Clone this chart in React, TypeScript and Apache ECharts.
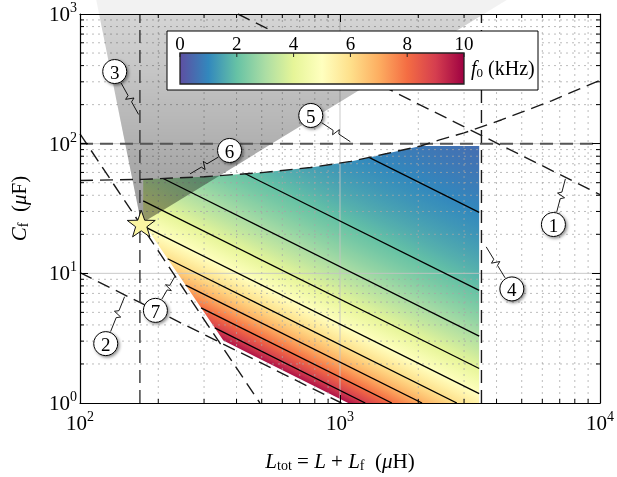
import React, { useEffect, useRef } from "react";
import * as echarts from "echarts";

const FONT = "'Liberation Serif', 'DejaVu Serif', serif";

// f0 (kHz) = K_F0 / sqrt(Ltot[µH] * Cf[µF])
const K_F0 = 1000 / Math.PI;
const f0ContourLevels = [1, 2, 3, 4, 5, 6, 7, 8, 9];
const f0GradientRange = [10, 0.5];
const colorbarTicks = [0, 2, 4, 6, 8, 10];
const colorbarRange = [0, 10];
const spectralR = [
  "#5e4fa2", "#3288bd", "#66c2a5", "#abdda4", "#e6f598", "#ffffbf",
  "#fee08b", "#fdae61", "#f46d43", "#d53e4f", "#9e0142",
];

const xRange = [100, 10000];
const yRange = [1, 1000];
const xMajorGrid = [1000];
const yMajorGrid = [10, 100];
const xDecades = [100, 1000];
const yDecades = [1, 10, 100];
const minorMultiples = [2, 3, 4, 5, 6, 7, 8, 9];

// constraint lines [Ltot µH, Cf µF]
const line1 = [[405, 1000], [10000, 40.5]];
const line2 = [[100, 10.13], [1013, 1]];
const line3 = [[170, 1], [170, 1000]];
const line4 = [[3500, 1], [3500, 1000]];
const line5 = [[100, 100], [10000, 100]];
const line6 = [
  [100, 52], [173, 53], [300, 55.6], [500, 59.8], [770, 65.5], [1100, 73],
  [1516, 84], [2044, 96], [2416, 107], [3000, 121], [4189, 153], [5000, 175],
  [6510, 214], [8000, 255], [10000, 308],
];
const line7 = [[100, 119], [492, 1]];

// feasible region
const region = [
  [175, 53.1], [300, 55.6], [500, 59.8], [770, 65.5], [1100, 73], [1516, 84],
  [2044, 96], [3430, 96], [3430, 1], [1075, 1], [356, 3.03], [175, 24.5],
];
const wedge = [[172, 24.2], [106, 3000], [8760, 3000]];
const starPoint = [[172, 24.2]];

const callouts = [
  { n: "1", at: [6620, 23.8], tip: [7360, 53.5] },
  { n: "2", at: [125.6, 2.87], tip: [148.4, 6.6] },
  { n: "3", at: [136, 360], tip: [168, 168] },
  { n: "4", at: [4581, 7.58], tip: [3650, 16] },
  { n: "5", at: [772, 165], tip: [1096, 103.5] },
  { n: "6", at: [376, 88.6], tip: [265, 58.5] },
  { n: "7", at: [195, 5.18], tip: [232, 9.5] },
];

function hexToRgb(h: string) {
  const v = parseInt(h.slice(1), 16);
  return [(v >> 16) & 255, (v >> 8) & 255, v & 255];
}
function spectral(t: number) {
  t = Math.min(1, Math.max(0, t));
  const n = spectralR.length - 1;
  const s = t * n;
  const i = Math.min(Math.floor(s), n - 1);
  const fr = s - i;
  const a = hexToRgb(spectralR[i]);
  const b = hexToRgb(spectralR[i + 1]);
  const c = a.map((x, k) => Math.round(x + (b[k] - x) * fr));
  return `rgb(${c[0]},${c[1]},${c[2]})`;
}

const logRegion = region.map(([L, C]) => [Math.log10(L), Math.log10(C)]);
function contourSegments(f: number) {
  const u = 2 * Math.log10(K_F0 / f);
  const hits: number[] = [];
  const n = logRegion.length;
  for (let i = 0; i < n; i++) {
    const a = logRegion[i];
    const b = logRegion[(i + 1) % n];
    const ga = a[0] + a[1] - u;
    const gb = b[0] + b[1] - u;
    if (ga < 0 !== gb < 0) {
      const t = ga / (ga - gb);
      hits.push(a[0] + t * (b[0] - a[0]));
    }
  }
  hits.sort((p, q) => p - q);
  const segs: number[][][] = [];
  for (let i = 0; i + 1 < hits.length; i += 2) {
    segs.push([
      [Math.pow(10, hits[i]), Math.pow(10, u - hits[i])],
      [Math.pow(10, hits[i + 1]), Math.pow(10, u - hits[i + 1])],
    ]);
  }
  return segs;
}

const starPath = (() => {
  let d = "";
  for (let k = 0; k < 10; k++) {
    const R = k % 2 === 0 ? 50 : 20;
    const a = ((-90 + 36 * k) * Math.PI) / 180;
    d += (k === 0 ? "M" : "L") + (50 + R * Math.cos(a)).toFixed(2) + " " + (50 + R * Math.sin(a)).toFixed(2) + " ";
  }
  return "path://" + d + "Z";
})();

const powLabel = (v: number) => `{b|10}{s|${Math.round(Math.log10(v))}}`;
const powRich = {
  b: { fontSize: 21, fontFamily: FONT, color: "#000" },
  s: { fontSize: 14, fontFamily: FONT, color: "#000", padding: [0, 0, 13, 0] },
};
const nameRich = {
  i: { fontSize: 21, fontFamily: FONT, fontStyle: "italic", color: "#000" },
  r: { fontSize: 21, fontFamily: FONT, color: "#000" },
  sub: { fontSize: 14, fontFamily: FONT, color: "#000", padding: [9, 0, 0, 0] },
};

export default function App() {
  const ref = useRef<HTMLDivElement>(null);
  useEffect(() => {
    const chart = echarts.init(ref.current!, null, { renderer: "svg" });

    const baseRender = (params: any, api: any) => {
      const c = (p: number[]) => api.coord(p);
      const cs = params.coordSys;
      const children: any[] = [];
      // coloured region with f0 gradient
      const o = c([100, 1]);
      const px = c([1000, 1]);
      const py = c([100, 10]);
      const a = px[0] - o[0];
      const b = o[1] - py[1];
      const lc0 = Math.pow(K_F0 / f0GradientRange[0], 2);
      const lc1 = Math.pow(K_F0 / f0GradientRange[1], 2);
      const A = c([1000, lc0 / 1000]);
      const du = Math.log10(lc1 / lc0);
      const t = du / (1 / (a * a) + 1 / (b * b));
      const B = [A[0] + t / a, A[1] - t / b];
      const stops: any[] = [];
      const N = 80;
      for (let i = 0; i <= N; i++) {
        const s = i / N;
        const lc = Math.pow(10, Math.log10(lc0) + s * du);
        const f = K_F0 / Math.sqrt(lc);
        stops.push({ offset: s, color: spectral((f - colorbarRange[0]) / (colorbarRange[1] - colorbarRange[0])) });
      }
      children.push({
        type: "polygon",
        shape: { points: region.map(c) },
        style: { fill: new echarts.graphic.LinearGradient(A[0], A[1], B[0], B[1], stops, true) },
      });
      // grid
      const top = cs.y, bottom = cs.y + cs.height, left = cs.x, right = cs.x + cs.width;
      const minorStyle = { stroke: "rgba(165,165,165,0.75)", lineWidth: 1, lineDash: [2, 4] };
      const majorStyle = { stroke: "rgba(195,195,195,0.9)", lineWidth: 1 };
      xDecades.forEach((d) =>
        minorMultiples.forEach((m) => {
          const x = c([d * m, 1])[0];
          children.push({ type: "line", shape: { x1: x, y1: top, x2: x, y2: bottom }, style: minorStyle });
          children.push({ type: "line", shape: { x1: x, y1: bottom, x2: x, y2: bottom - 4 }, style: { stroke: "#000", lineWidth: 1 } });
          children.push({ type: "line", shape: { x1: x, y1: top, x2: x, y2: top + 4 }, style: { stroke: "#000", lineWidth: 1 } });
        })
      );
      yDecades.forEach((d) =>
        minorMultiples.forEach((m) => {
          const y = c([100, d * m])[1];
          children.push({ type: "line", shape: { x1: left, y1: y, x2: right, y2: y }, style: minorStyle });
          children.push({ type: "line", shape: { x1: left, y1: y, x2: left + 4, y2: y }, style: { stroke: "#000", lineWidth: 1 } });
          children.push({ type: "line", shape: { x1: right, y1: y, x2: right - 4, y2: y }, style: { stroke: "#000", lineWidth: 1 } });
        })
      );
      xMajorGrid.forEach((v) => {
        const x = c([v, 1])[0];
        children.push({ type: "line", shape: { x1: x, y1: top, x2: x, y2: bottom }, style: majorStyle });
      });
      yMajorGrid.forEach((v) => {
        const y = c([100, v])[1];
        children.push({ type: "line", shape: { x1: left, y1: y, x2: right, y2: y }, style: majorStyle });
      });
      // contours
      f0ContourLevels.forEach((f) => {
        contourSegments(f).forEach((seg) => {
          const p0 = c(seg[0]);
          const p1 = c(seg[1]);
          children.push({ type: "line", shape: { x1: p0[0], y1: p0[1], x2: p1[0], y2: p1[1] }, style: { stroke: "#000", lineWidth: 1.3 } });
        });
      });
      return { type: "group", children };
    };

    const wedgeInner = (params: any, api: any) => {
      const pts = wedge.map((p) => api.coord(p));
      const grad = new echarts.graphic.LinearGradient(0, pts[0][1], 0, params.coordSys.y, [
        { offset: 0, color: "rgba(0,0,0,0.37)" },
        { offset: 1, color: "rgba(0,0,0,0.12)" },
      ], true);
      return { type: "polygon", shape: { points: pts }, style: { fill: grad } };
    };
    const wedgeOuter = (params: any, api: any) => {
      const pts = wedge.map((p) => api.coord(p));
      return { type: "polygon", shape: { points: pts }, style: { fill: "rgba(0,0,0,0.05)" } };
    };

    const calloutRender = (params: any, api: any) => {
      const co = callouts[params.dataIndex];
      const cp = api.coord(co.at);
      const tp = api.coord(co.tip);
      const dx = tp[0] - cp[0], dy = tp[1] - cp[1];
      const len = Math.hypot(dx, dy);
      const ux = dx / len, uy = dy / len;
      const nx = -uy, ny = ux;
      const r = 12;
      const q = [cp[0] + ux * (r + 1), cp[1] + uy * (r + 1)];
      const Ll = len - r - 1;
      const at = (s: number, off: number) => [q[0] + ux * Ll * s + nx * off, q[1] + uy * Ll * s + ny * off];
      const leader = [q, at(0.4, 0), at(0.46, 4), at(0.54, -4), at(0.6, 0), tp];
      return {
        type: "group",
        children: [
          { type: "polyline", shape: { points: leader }, style: { stroke: "#000", lineWidth: 0.9, fill: null } },
          {
            type: "circle",
            shape: { cx: cp[0], cy: cp[1], r },
            style: { fill: "#fff", stroke: "#000", lineWidth: 1, shadowBlur: 3, shadowOffsetX: 1.5, shadowOffsetY: 1.5, shadowColor: "rgba(0,0,0,0.45)" },
          },
          {
            type: "text",
            x: cp[0],
            y: cp[1] + 1,
            style: { text: co.n, fontSize: 19, fontFamily: FONT, fill: "#000", align: "center", verticalAlign: "middle", textAlign: "center", textVerticalAlign: "middle" },
          },
        ],
      };
    };

    const dashed = (data: number[][], color = "#1a1a1a", width = 1.4) => ({
      type: "line",
      data,
      symbol: "none",
      silent: true,
      z: 4,
      lineStyle: { color, width, type: [13, 7] },
    });

    // colorbar (graphic)
    const cbX = 180, cbY = 53, cbW = 284, cbH = 31;
    const cbStops = spectralR.map((col, i) => ({ offset: i / (spectralR.length - 1), color: col }));
    const graphic: any[] = [
      { type: "rect", z: 100, shape: { x: 167, y: 31, width: 371, height: 59 }, style: { fill: "#fff", stroke: "#000", lineWidth: 1 } },
      { type: "rect", z: 101, shape: { x: cbX, y: cbY, width: cbW, height: cbH }, style: { fill: new echarts.graphic.LinearGradient(0, 0, 1, 0, cbStops), stroke: "#222", lineWidth: 1.3 } },
    ];
    colorbarTicks.forEach((v) => {
      const x = cbX + ((v - colorbarRange[0]) / (colorbarRange[1] - colorbarRange[0])) * cbW;
      graphic.push({ type: "line", z: 102, shape: { x1: x, y1: cbY, x2: x, y2: cbY + 4 }, style: { stroke: "#222", lineWidth: 1 } });
      graphic.push({
        type: "text", z: 102, x, y: 43,
        style: { text: String(v), fontSize: 19, fontFamily: FONT, fill: "#000", align: "center", verticalAlign: "middle", textAlign: "center", textVerticalAlign: "middle" },
      });
    });
    graphic.push({
      type: "text", z: 102, x: 471, y: 68,
      style: {
        text: "{i|f}{sub|0}{r| (kHz)}",
        rich: {
          i: { fontSize: 20, fontFamily: FONT, fontStyle: "italic", fill: "#000", color: "#000" },
          r: { fontSize: 20, fontFamily: FONT, fill: "#000", color: "#000" },
          sub: { fontSize: 13, fontFamily: FONT, fill: "#000", color: "#000", padding: [8, 0, 0, 0] },
        },
        align: "left", verticalAlign: "middle", textAlign: "left", textVerticalAlign: "middle",
      },
    });

    const axisCommon = {
      type: "log",
      logBase: 10,
      axisLine: { show: true, onZero: false, lineStyle: { color: "#000", width: 1.2 } },
      axisTick: { show: true, inside: true, length: 8, lineStyle: { color: "#000", width: 1 } },
      splitLine: { show: false },
      minorTick: { show: false },
      minorSplitLine: { show: false },
      z: 10,
    };

    chart.setOption({
      animation: false,
      grid: { left: 77, right: 15, top: 14, bottom: 64, containLabel: false },
      xAxis: [
        {
          ...axisCommon,
          min: xRange[0], max: xRange[1], position: "bottom",
          axisLabel: { formatter: powLabel, rich: powRich, margin: 6, showMinLabel: true, showMaxLabel: true },
          name: "{i|L}{sub|tot}{r| = }{i|L}{r| + }{i|L}{sub|f}{r|  (}{i|μ}{r|H)}",
          nameLocation: "middle", nameGap: 46, nameTextStyle: { rich: nameRich },
        },
        { ...axisCommon, min: xRange[0], max: xRange[1], position: "top", axisLabel: { show: false } },
      ],
      yAxis: [
        {
          ...axisCommon,
          min: yRange[0], max: yRange[1], position: "left",
          axisLabel: { formatter: powLabel, rich: powRich, margin: 3, showMinLabel: true, showMaxLabel: true },
          name: "{i|C}{sub|f}{r|  (}{i|μ}{r|F)}",
          nameLocation: "middle", nameGap: 50, nameRotate: 90, nameTextStyle: { rich: nameRich },
        },
        { ...axisCommon, min: yRange[0], max: yRange[1], position: "right", axisLabel: { show: false } },
      ],
      graphic,
      series: [
        { type: "custom", coordinateSystem: "cartesian2d", renderItem: baseRender, data: [[1000, 10]], z: 1, clip: true, silent: true },
        { type: "custom", coordinateSystem: "cartesian2d", renderItem: wedgeInner, data: [[1000, 10]], z: 3, clip: true, silent: true },
        { type: "custom", coordinateSystem: "cartesian2d", renderItem: wedgeOuter, data: [[1000, 10]], z: 3, clip: false, silent: true },
        dashed(line1),
        dashed(line2),
        dashed(line3, "#333"),
        dashed(line4),
        dashed(line5, "#555", 2),
        dashed(line6),
        dashed(line7),
        {
          type: "scatter", data: starPoint, symbol: starPath, symbolSize: 28, symbolKeepAspect: true, z: 6, silent: true,
          itemStyle: { color: "#fbf5a2", borderColor: "#111", borderWidth: 1, opacity: 1 },
        },
        { type: "custom", coordinateSystem: "cartesian2d", renderItem: calloutRender, data: callouts.map((c) => c.at), z: 7, clip: false, silent: true },
      ],
    });
    return () => chart.dispose();
  }, []);
  return <div ref={ref} style={{ position: "fixed", left: 0, top: 0, width: 617, height: 477 }} />;
}
